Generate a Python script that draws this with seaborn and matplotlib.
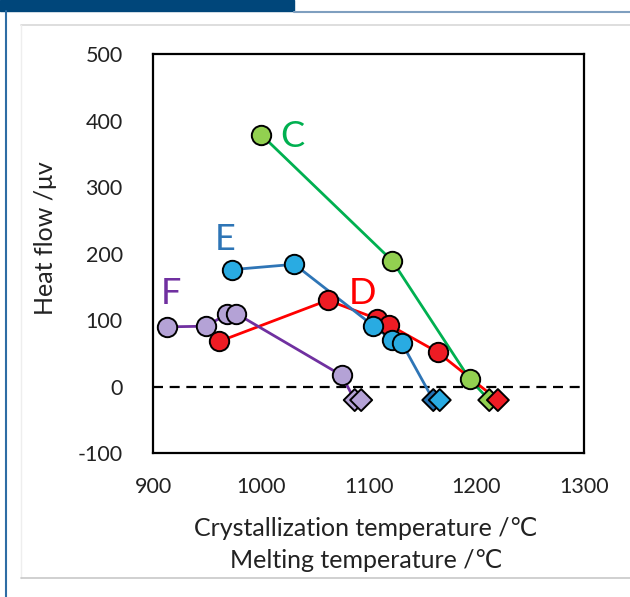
import matplotlib
matplotlib.use("Agg")
import matplotlib.pyplot as plt
import seaborn as sns
import numpy as np
import pandas as pd
from matplotlib.patches import Rectangle
from matplotlib.lines import Line2D


# series C, D, E, F: crystallization points (circles), last one = melting point (diamond)
series = ["C", "D", "E", "F"]
cryst_x = {
    "C": [1000, 1122, 1194],
    "D": [961, 1062, 1108, 1119, 1164],
    "E": [973, 1031, 1104, 1122, 1131],
    "F": [913, 949, 968, 977, 1075],
}
cryst_y = {
    "C": [379, 189, 11],
    "D": [68, 130, 102, 93, 52],
    "E": [176, 184, 92, 70, 65],
    "F": [90, 91, 109, 110, 17],
}
melt_x = {"C": 1212, "D": 1220, "E": 1160, "F": 1087}
melt_y = -20
extra_melt_x = {"E": 1166, "F": 1093}

label_pos = {"C": (1029, 376), "D": (1094, 140), "E": (967, 222), "F": (916, 140)}

line_col = {"C": "#00b050", "D": "#ff0000", "E": "#2e75b6", "F": "#7030a0"}
fill_col = {"C": "#92d050", "D": "#ee1c24", "E": "#29abe2", "F": "#b4a2d6"}
extra_col = {"E": "#29abe2", "F": "#b4a2d6"}
melt_col = {"C": "#92d050", "D": "#ee1c24", "E": "#2272b4", "F": "#b4a2d6"}

sns.set_style("white")
plt.rcParams["font.family"] = ["Lato", "DejaVu Sans"]
plt.rcParams["axes.unicode_minus"] = False

W, H = 630, 597
fig = plt.figure(figsize=(W / 100, H / 100), dpi=100)


def fx(x):
    return x / W


def fy(y):
    return 1 - y / H


# page frame bits around the figure
fig.add_artist(Rectangle((0, fy(11)), fx(294), 11 / H, transform=fig.transFigure,
                         color="#00467a", zorder=0))
fig.add_artist(Line2D([fx(294), 1], [fy(11.5), fy(11.5)], transform=fig.transFigure,
                      color="#7f9fbf", lw=1.5))
fig.add_artist(Line2D([fx(6), fx(6)], [fy(11), 0], transform=fig.transFigure,
                      color="#2e6da4", lw=1.5))
fig.add_artist(Line2D([fx(21.5), 1], [fy(24.5), fy(24.5)], transform=fig.transFigure,
                      color="#d8d8d8", lw=1.2))
fig.add_artist(Line2D([fx(21.5), fx(21.5)], [fy(24.5), fy(578)], transform=fig.transFigure,
                      color="#eeeeee", lw=1))
fig.add_artist(Line2D([fx(21.5), 1], [fy(578), fy(578)], transform=fig.transFigure,
                      color="#c8c8c8", lw=1.2))

ax = fig.add_axes([fx(153.4), fy(453.3), (584 - 153.4) / W, (453.3 - 54) / H])

rows = []
for s in series:
    xs = cryst_x[s] + [melt_x[s]]
    ys = cryst_y[s] + [melt_y]
    for i, (x, y) in enumerate(zip(xs, ys)):
        rows.append({"series": s, "order": i, "x": x, "y": y})
lines_df = pd.DataFrame(rows)

circ_df = pd.DataFrame([{"series": s, "x": x, "y": y}
                        for s in ["F", "C", "D", "E"]
                        for x, y in zip(cryst_x[s], cryst_y[s])])
melt_df = pd.DataFrame(
    [{"series": s, "x": melt_x[s], "y": melt_y} for s in ["C", "D", "E", "F"]]
)
extra_df = pd.DataFrame([{"series": s, "x": x, "y": melt_y} for s, x in extra_melt_x.items()])

ax.axhline(0, color="black", lw=1.6, dashes=(4.5, 3), zorder=1)

sns.lineplot(data=lines_df, x="x", y="y", hue="series", units="series", palette=line_col,
             sort=False, estimator=None, legend=False, lw=2.0, ax=ax, zorder=2)

sns.scatterplot(data=melt_df, x="x", y="y", hue="series", palette=melt_col, marker="D",
                s=125, edgecolor="black", linewidth=1.4, legend=False, ax=ax, zorder=3)
sns.scatterplot(data=extra_df, x="x", y="y", hue="series", palette=extra_col, marker="D",
                s=125, edgecolor="black", linewidth=1.4, legend=False, ax=ax, zorder=3)

for s in ["F", "C", "D", "E"]:
    d = circ_df[circ_df.series == s]
    sns.scatterplot(data=d, x="x", y="y", color=fill_col[s], marker="o", s=195,
                    edgecolor="black", linewidth=1.4, legend=False, ax=ax, zorder=4)

for s in series:
    lx, ly = label_pos[s]
    ax.text(lx, ly, s, color=line_col[s], fontsize=26, ha="center", va="center")

ax.set_xlim(900, 1300)
ax.set_ylim(-100, 500)
ax.set_xticks([900, 1000, 1100, 1200, 1300])
ax.set_yticks([-100, 0, 100, 200, 300, 400, 500])
ax.set_xlabel("")
ax.set_ylabel("")
ax.tick_params(direction="in", length=6, width=1.5, labelsize=15.5, colors="black",
               labelcolor="#222222")
ax.tick_params(axis="x", pad=17)
ax.tick_params(axis="y", pad=22)
for sp in ax.spines.values():
    sp.set_color("black")
    sp.set_linewidth(1.6)

fig.text(fx(366), fy(528), "Crystallization temperature /\u2103", fontsize=18,
         ha="center", va="center", color="#222222")
fig.text(fx(366), fy(561), "Melting temperature /\u2103", fontsize=18,
         ha="center", va="center", color="#222222")
fig.text(fx(46), fy(238.5), "Heat flow /\u03bcv", fontsize=18, rotation=90,
         ha="center", va="center", color="#222222")

fig.savefig("out.png", dpi=100)
